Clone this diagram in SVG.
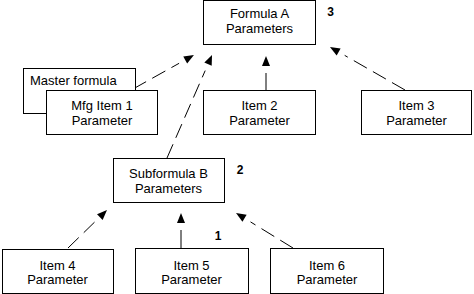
<svg xmlns="http://www.w3.org/2000/svg" width="474" height="294" viewBox="0 0 474 294">
<style>
rect{fill:#fff;stroke:#000;stroke-width:1}
text{font-family:"Liberation Sans",Arial,sans-serif;font-size:13px;fill:#000}
.c{text-anchor:middle}
.n{font-weight:bold;font-size:12px}
.e{stroke:#000;stroke-width:1;fill:none;stroke-dasharray:15 7;marker-end:url(#ah)}
.s{stroke-dasharray:none}
</style>
<defs>
<marker id="ah" markerUnits="userSpaceOnUse" markerWidth="20" markerHeight="10" viewBox="0 -5 20 10" refX="0" refY="0" orient="auto">
<path d="M7,-4 L17,0 L7,4 z" fill="#000"/>
</marker>
</defs>
<rect width="474" height="294" style="stroke:none"/>
<g id="connectors">
<line class="e" x1="133" y1="89" x2="179.1" y2="63.3"/>
<line class="e" x1="167" y1="158" x2="205.2" y2="70.6"/>
<line class="e s" x1="266" y1="90" x2="266" y2="73"/>
<line class="e" x1="405" y1="90" x2="344.7" y2="55.4"/>
<line class="e" x1="68" y1="248" x2="94.8" y2="221.9"/>
<line class="e s" x1="181" y1="248" x2="181" y2="230"/>
<line class="e" x1="293" y1="248" x2="250.5" y2="221.9"/>
</g>
<g id="formulaA">
<rect x="203.5" y="0.5" width="112" height="44"/>
<text class="c" x="259.5" y="18">Formula A</text>
<text class="c" x="259.5" y="33">Parameters</text>
</g>
<g id="master">
<rect x="23.5" y="68.5" width="112" height="45"/>
<text x="30" y="85">Master formula</text>
</g>
<g id="mfg1">
<rect x="46.5" y="90.5" width="111" height="44"/>
<text class="c" x="102" y="110">Mfg Item 1</text>
<text class="c" x="102" y="125">Parameter</text>
</g>
<g id="item2">
<rect x="203.5" y="90.5" width="112" height="44"/>
<text class="c" x="259.5" y="110">Item 2</text>
<text class="c" x="259.5" y="125">Parameter</text>
</g>
<g id="item3">
<rect x="361.5" y="90.5" width="110" height="44"/>
<text class="c" x="416.5" y="110">Item 3</text>
<text class="c" x="416.5" y="125">Parameter</text>
</g>
<g id="subB">
<rect x="113.5" y="158.5" width="111" height="44"/>
<text class="c" x="168.5" y="178">Subformula B</text>
<text class="c" x="168.5" y="193">Parameters</text>
</g>
<g id="item4">
<rect x="2.5" y="249.5" width="111" height="44"/>
<text class="c" x="57.5" y="270">Item 4</text>
<text class="c" x="57.5" y="284">Parameter</text>
</g>
<g id="item5">
<rect x="135.5" y="248.5" width="113" height="45"/>
<text class="c" x="191.5" y="270">Item 5</text>
<text class="c" x="191.5" y="284">Parameter</text>
</g>
<g id="item6">
<rect x="270.5" y="248.5" width="113" height="45"/>
<text class="c" x="327" y="270">Item 6</text>
<text class="c" x="327" y="284">Parameter</text>
</g>
<g id="labels">
<text class="n c" x="330.5" y="15.5">3</text>
<text class="n c" x="240" y="173.5">2</text>
<text class="n c" x="218" y="239.5">1</text>
</g>
</svg>
